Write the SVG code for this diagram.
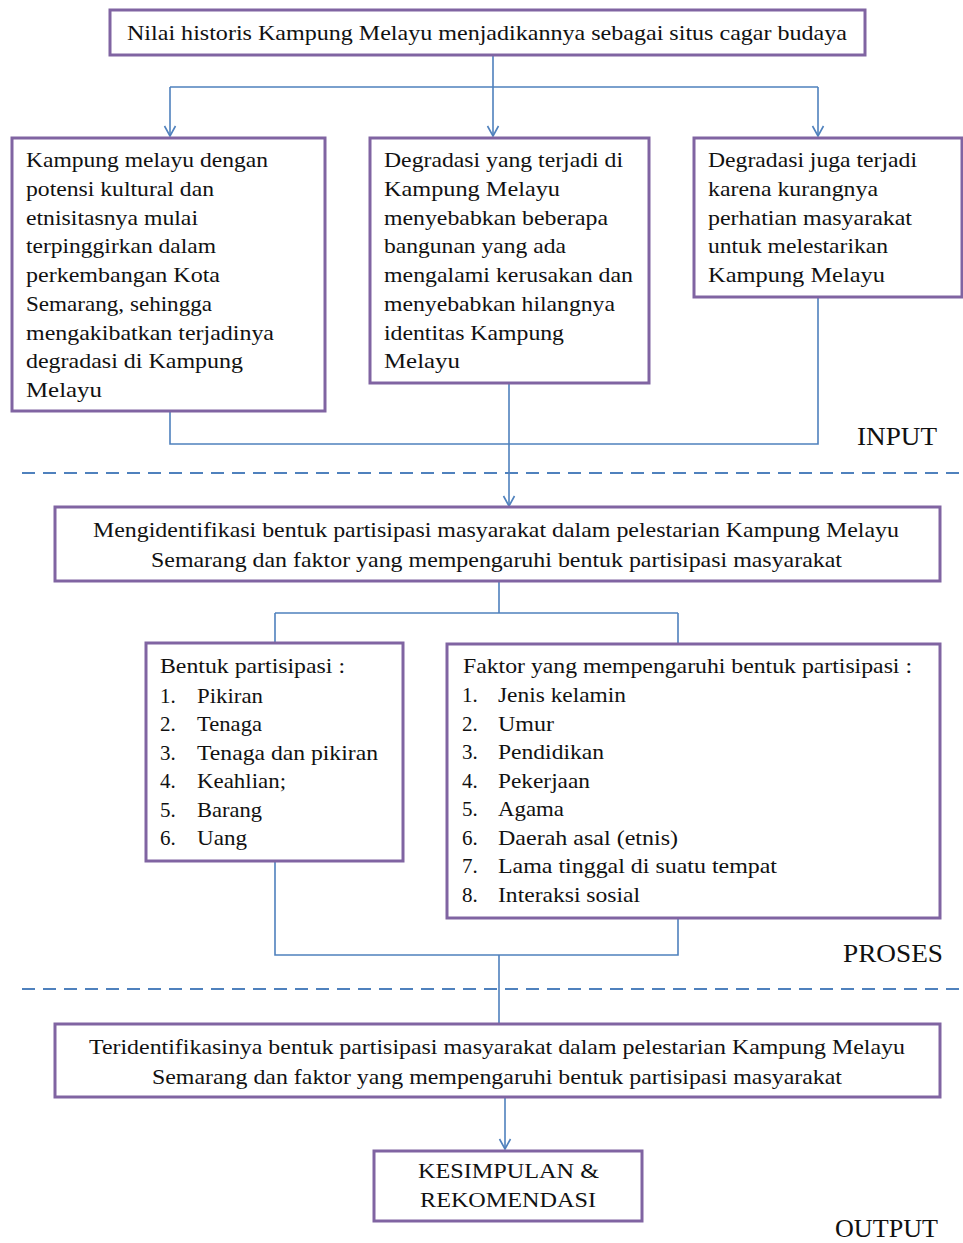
<svg xmlns="http://www.w3.org/2000/svg" width="963" height="1243" viewBox="0 0 963 1243">
<style>
.box{fill:#fff;stroke:#8064A2;stroke-width:3}
.t{font-family:"Liberation Serif","Times New Roman",serif;font-size:21px;fill:#111}
.lbl{font-family:"Liberation Serif","Times New Roman",serif;font-size:26px;fill:#111}
.c{fill:none;stroke:#4F81BD;stroke-width:1.6}
.d{fill:none;stroke:#4F81BD;stroke-width:2;stroke-dasharray:13 8}
</style>
<defs>
<marker id="arr" markerWidth="14" markerHeight="14" refX="12" refY="7" orient="auto" markerUnits="userSpaceOnUse" viewBox="0 0 14 14">
<path d="M2,1.5 L12,7 L2,12.5" fill="none" stroke="#4F81BD" stroke-width="1.6"/>
</marker>
</defs>
<rect width="963" height="1243" fill="#fff"/>
<g id="connectors">
<path class="c" d="M493,55 V87 M170,87 H818"/>
<path class="c" d="M170,87 V136" marker-end="url(#arr)"/>
<path class="c" d="M493,87 V136" marker-end="url(#arr)"/>
<path class="c" d="M818,87 V136" marker-end="url(#arr)"/>
<path class="c" d="M170,411 V444 H818 V298"/>
<path class="c" d="M509,383 V506" marker-end="url(#arr)"/>
<path class="c" d="M499,582 V613 M275,613 H678 M275,613 V642 M678,613 V643"/>
<path class="c" d="M275,861 V955 H678 V919 M499,955 V1023"/>
<path class="c" d="M505,1098 V1149" marker-end="url(#arr)"/>
<path class="d" d="M22,473 H963"/>
<path class="d" d="M22,989 H963"/>
</g>
<g id="n_top">
<rect class="box" x="110" y="10" width="755" height="45"/>
<text class="t" x="127" y="40" textLength="720" lengthAdjust="spacingAndGlyphs">Nilai historis Kampung Melayu menjadikannya sebagai situs cagar budaya</text>
</g>
<g id="n_in1">
<rect class="box" x="12" y="138" width="313" height="273"/>
<text class="t" x="26" y="167" textLength="242" lengthAdjust="spacingAndGlyphs">Kampung melayu dengan</text>
<text class="t" x="26" y="195.8" textLength="188" lengthAdjust="spacingAndGlyphs">potensi kultural dan</text>
<text class="t" x="26" y="224.5" textLength="172" lengthAdjust="spacingAndGlyphs">etnisitasnya mulai</text>
<text class="t" x="26" y="253.3" textLength="190" lengthAdjust="spacingAndGlyphs">terpinggirkan dalam</text>
<text class="t" x="26" y="282" textLength="194" lengthAdjust="spacingAndGlyphs">perkembangan Kota</text>
<text class="t" x="26" y="310.8" textLength="186" lengthAdjust="spacingAndGlyphs">Semarang, sehingga</text>
<text class="t" x="26" y="339.5" textLength="248" lengthAdjust="spacingAndGlyphs">mengakibatkan terjadinya</text>
<text class="t" x="26" y="368.3" textLength="217" lengthAdjust="spacingAndGlyphs">degradasi di Kampung</text>
<text class="t" x="26" y="397" textLength="76" lengthAdjust="spacingAndGlyphs">Melayu</text>
</g>
<g id="n_in2">
<rect class="box" x="370" y="138" width="279" height="245"/>
<text class="t" x="384" y="167" textLength="239" lengthAdjust="spacingAndGlyphs">Degradasi yang terjadi di</text>
<text class="t" x="384" y="195.8" textLength="176" lengthAdjust="spacingAndGlyphs">Kampung Melayu</text>
<text class="t" x="384" y="224.5" textLength="224" lengthAdjust="spacingAndGlyphs">menyebabkan beberapa</text>
<text class="t" x="384" y="253.3" textLength="182" lengthAdjust="spacingAndGlyphs">bangunan yang ada</text>
<text class="t" x="384" y="282" textLength="249" lengthAdjust="spacingAndGlyphs">mengalami kerusakan dan</text>
<text class="t" x="384" y="310.8" textLength="231" lengthAdjust="spacingAndGlyphs">menyebabkan hilangnya</text>
<text class="t" x="384" y="339.5" textLength="180" lengthAdjust="spacingAndGlyphs">identitas Kampung</text>
<text class="t" x="384" y="368.3" textLength="76" lengthAdjust="spacingAndGlyphs">Melayu</text>
</g>
<g id="n_in3">
<rect class="box" x="694" y="138" width="268" height="159"/>
<text class="t" x="708" y="167" textLength="209" lengthAdjust="spacingAndGlyphs">Degradasi juga terjadi</text>
<text class="t" x="708" y="195.8" textLength="170" lengthAdjust="spacingAndGlyphs">karena kurangnya</text>
<text class="t" x="708" y="224.5" textLength="204" lengthAdjust="spacingAndGlyphs">perhatian masyarakat</text>
<text class="t" x="708" y="253.3" textLength="180" lengthAdjust="spacingAndGlyphs">untuk melestarikan</text>
<text class="t" x="708" y="282" textLength="177" lengthAdjust="spacingAndGlyphs">Kampung Melayu</text>
</g>
<g id="l_input">
<text class="lbl" x="857" y="445" textLength="80" lengthAdjust="spacingAndGlyphs">INPUT</text>
</g>
<g id="n_proc">
<rect class="box" x="55" y="507" width="885" height="74"/>
<text class="t" x="93" y="537" textLength="806" lengthAdjust="spacingAndGlyphs">Mengidentifikasi bentuk partisipasi masyarakat dalam pelestarian Kampung Melayu</text>
<text class="t" x="151" y="567" textLength="691" lengthAdjust="spacingAndGlyphs">Semarang dan faktor yang mempengaruhi bentuk partisipasi masyarakat</text>
</g>
<g id="n_bentuk">
<rect class="box" x="146" y="643" width="257" height="218"/>
<text class="t" x="160" y="673" textLength="185" lengthAdjust="spacingAndGlyphs">Bentuk partisipasi :</text>
<text class="t" x="160" y="702.5">1.</text><text class="t" x="197" y="702.5" textLength="66" lengthAdjust="spacingAndGlyphs">Pikiran</text>
<text class="t" x="160" y="731">2.</text><text class="t" x="197" y="731" textLength="65" lengthAdjust="spacingAndGlyphs">Tenaga</text>
<text class="t" x="160" y="759.5">3.</text><text class="t" x="197" y="759.5" textLength="181" lengthAdjust="spacingAndGlyphs">Tenaga dan pikiran</text>
<text class="t" x="160" y="788">4.</text><text class="t" x="197" y="788" textLength="89" lengthAdjust="spacingAndGlyphs">Keahlian;</text>
<text class="t" x="160" y="816.5">5.</text><text class="t" x="197" y="816.5" textLength="65" lengthAdjust="spacingAndGlyphs">Barang</text>
<text class="t" x="160" y="845">6.</text><text class="t" x="197" y="845" textLength="50" lengthAdjust="spacingAndGlyphs">Uang</text>
</g>
<g id="n_faktor">
<rect class="box" x="447" y="644" width="493" height="274"/>
<text class="t" x="463" y="673" textLength="449" lengthAdjust="spacingAndGlyphs">Faktor yang mempengaruhi bentuk partisipasi :</text>
<text class="t" x="462" y="702">1.</text><text class="t" x="498" y="702" textLength="128" lengthAdjust="spacingAndGlyphs">Jenis kelamin</text>
<text class="t" x="462" y="730.6">2.</text><text class="t" x="498" y="730.6" textLength="56" lengthAdjust="spacingAndGlyphs">Umur</text>
<text class="t" x="462" y="759.1">3.</text><text class="t" x="498" y="759.1" textLength="106" lengthAdjust="spacingAndGlyphs">Pendidikan</text>
<text class="t" x="462" y="787.7">4.</text><text class="t" x="498" y="787.7" textLength="92" lengthAdjust="spacingAndGlyphs">Pekerjaan</text>
<text class="t" x="462" y="816.3">5.</text><text class="t" x="498" y="816.3" textLength="66" lengthAdjust="spacingAndGlyphs">Agama</text>
<text class="t" x="462" y="844.9">6.</text><text class="t" x="498" y="844.9" textLength="180" lengthAdjust="spacingAndGlyphs">Daerah asal (etnis)</text>
<text class="t" x="462" y="873.4">7.</text><text class="t" x="498" y="873.4" textLength="279" lengthAdjust="spacingAndGlyphs">Lama tinggal di suatu tempat</text>
<text class="t" x="462" y="902">8.</text><text class="t" x="498" y="902" textLength="142" lengthAdjust="spacingAndGlyphs">Interaksi sosial</text>
</g>
<g id="l_proses">
<text class="lbl" x="843" y="962" textLength="100" lengthAdjust="spacingAndGlyphs">PROSES</text>
</g>
<g id="n_out">
<rect class="box" x="55" y="1024" width="885" height="73"/>
<text class="t" x="89" y="1054" textLength="816" lengthAdjust="spacingAndGlyphs">Teridentifikasinya bentuk partisipasi masyarakat dalam pelestarian Kampung Melayu</text>
<text class="t" x="152" y="1084" textLength="690" lengthAdjust="spacingAndGlyphs">Semarang dan faktor yang mempengaruhi bentuk partisipasi masyarakat</text>
</g>
<g id="n_kes">
<rect class="box" x="374" y="1151" width="268" height="70"/>
<text class="t" x="418" y="1178" textLength="181" lengthAdjust="spacingAndGlyphs">KESIMPULAN &amp;</text>
<text class="t" x="420" y="1207" textLength="176" lengthAdjust="spacingAndGlyphs">REKOMENDASI</text>
</g>
<g id="l_output">
<text class="lbl" x="835" y="1237" textLength="103" lengthAdjust="spacingAndGlyphs">OUTPUT</text>
</g>
</svg>
